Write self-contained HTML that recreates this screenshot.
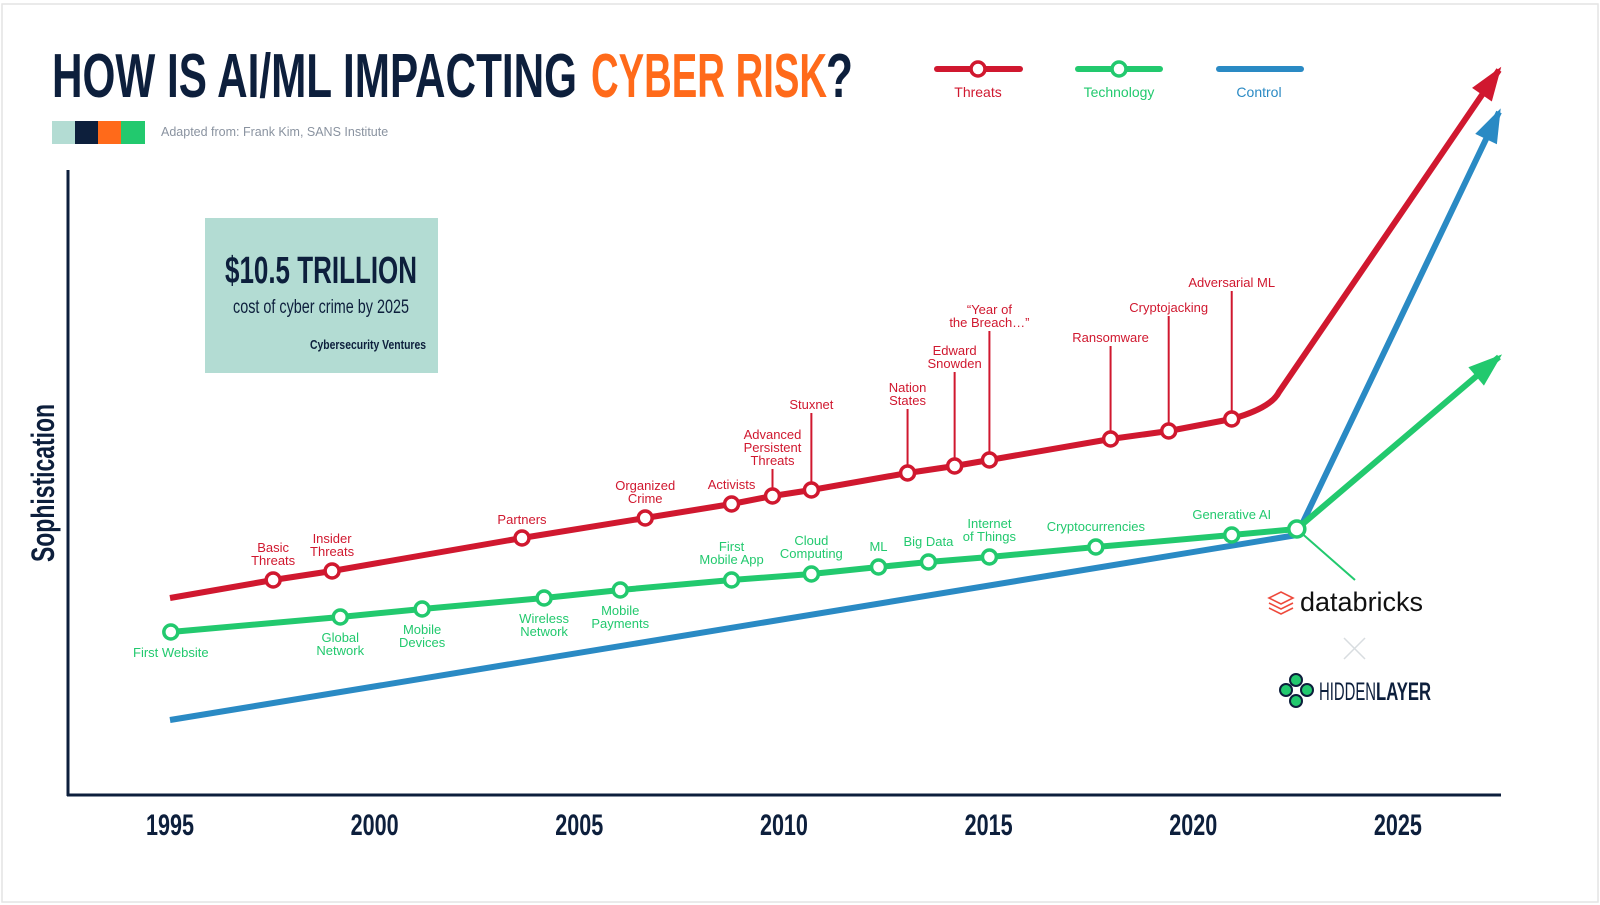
<!DOCTYPE html>
<html><head><meta charset="utf-8"><style>
html,body{margin:0;padding:0;background:#fff;}
svg{display:block;font-family:"Liberation Sans",sans-serif;}
</style></head><body>
<svg id="chart" width="1600" height="905" viewBox="0 0 1600 905">
<rect x="2" y="4" width="1596" height="898" fill="#fff" stroke="#e4e4e4" stroke-width="1.5"/>
<g>
<text x="52" y="97" font-size="62" font-weight="bold" fill="#0d1f3c" textLength="525" lengthAdjust="spacingAndGlyphs">HOW IS AI/ML IMPACTING</text>
<text x="591" y="97" font-size="62" font-weight="bold" fill="#ff6a1a" textLength="236" lengthAdjust="spacingAndGlyphs">CYBER RISK</text>
<text x="826" y="97" font-size="62" font-weight="bold" fill="#0d1f3c" textLength="27" lengthAdjust="spacingAndGlyphs">?</text>
</g>
<g>
<rect x="52" y="121" width="23" height="23" fill="#b3dcd3"/><rect x="75" y="121" width="23" height="23" fill="#0d1f3c"/><rect x="98" y="121" width="23" height="23" fill="#ff6a1a"/><rect x="121" y="121" width="24" height="23" fill="#22c96e"/>
</g>
<text x="161" y="136" font-size="12.5" fill="#8a93a0">Adapted from: Frank Kim, SANS Institute</text>
<g>
<g><line x1="937" y1="69" x2="1020" y2="69" stroke="#d0182f" stroke-width="6" stroke-linecap="round"/><circle cx="978" cy="69" r="7" fill="#fff" stroke="#d0182f" stroke-width="3.5"/><text x="978" y="97" font-size="14" fill="#d0182f" text-anchor="middle">Threats</text></g>
<g><line x1="1078" y1="69" x2="1160" y2="69" stroke="#22c96e" stroke-width="6" stroke-linecap="round"/><circle cx="1119" cy="69" r="7" fill="#fff" stroke="#22c96e" stroke-width="3.5"/><text x="1119" y="97" font-size="14" fill="#22c96e" text-anchor="middle">Technology</text></g>
<g><line x1="1219" y1="69" x2="1301" y2="69" stroke="#2a8ac4" stroke-width="6" stroke-linecap="round"/><text x="1259" y="97" font-size="14" fill="#2a8ac4" text-anchor="middle">Control</text></g>
</g>
<g>
<rect x="205" y="218" width="233" height="155" fill="#b3dcd3"/>
<text x="321" y="283" font-size="38" font-weight="bold" fill="#0d1f3c" text-anchor="middle" textLength="192" lengthAdjust="spacingAndGlyphs">$10.5 TRILLION</text>
<text x="321" y="313" font-size="19" fill="#0d1f3c" text-anchor="middle" textLength="176" lengthAdjust="spacingAndGlyphs">cost of cyber crime by 2025</text>
<text x="426" y="349" font-size="13" font-weight="bold" fill="#0d1f3c" text-anchor="end" textLength="116" lengthAdjust="spacingAndGlyphs">Cybersecurity Ventures</text>
</g>
<text transform="translate(54,483) rotate(-90)" font-size="32" font-weight="bold" fill="#0d1f3c" text-anchor="middle" textLength="158" lengthAdjust="spacingAndGlyphs">Sophistication</text>
<g id="axes"></g>
<g id="series"></g>
<g>
<g fill="none" stroke="#ee4a3c" stroke-width="1.6">
<path d="M1269 598 L1281 592 L1293 598 L1281 604 Z"/><path d="M1269 603 L1281 609 L1293 603"/><path d="M1269 608 L1281 614 L1293 608"/>
<text x="1300" y="611" font-size="27" fill="#111" stroke="none">databricks</text>
</g>
<g stroke="#d8dde0" stroke-width="1.5"><line x1="1344" y1="638" x2="1365" y2="659"/><line x1="1365" y1="638" x2="1344" y2="659"/></g>
<g>
<g fill="#22c96e" stroke="#0d1f3c" stroke-width="2"><circle cx="1296" cy="680" r="6"/><circle cx="1296" cy="701" r="6"/><circle cx="1286" cy="690" r="6"/><circle cx="1307" cy="690" r="6"/></g>
<text x="1319" y="700" font-size="25" fill="#0d1f3c" textLength="57" lengthAdjust="spacingAndGlyphs">HIDDEN</text>
<text x="1376" y="700" font-size="25" font-weight="bold" fill="#0d1f3c" textLength="55" lengthAdjust="spacingAndGlyphs">LAYER</text>
</g>
</g>
</svg>
<script>
const axisYears = [1995, 2000, 2005, 2010, 2015, 2020, 2025];
const threatYears = [1997.52, 1998.96, 2003.6, 2006.61, 2008.72, 2009.72, 2010.67, 2013.02, 2014.17, 2015.02, 2017.98, 2019.4, 2020.94];
const threatValues = [43, 44.8, 51.4, 55.4, 58.2, 59.8, 61, 64.4, 65.8, 67, 71.2, 72.8, 75.2];
const threatLabels = [["Basic","Threats"],["Insider","Threats"],["Partners"],["Organized","Crime"],["Activists"],["Advanced","Persistent","Threats"],["Stuxnet"],["Nation","States"],["Edward","Snowden"],["\u201CYear of","the Breach\u2026\u201D"],["Ransomware"],["Cryptojacking"],["Adversarial ML"]];
const threatLift = [15, 15, 14, 15, 15, 31, 81, 68, 98, 133, 97, 119, 132];
const threatStart = [1995, 39.4];
const threatBend = [2021.9, 79];
const threatEnd = [2027.47, 145];
const techYears = [1995.02, 1999.16, 2001.16, 2004.14, 2006.0, 2008.72, 2010.67, 2012.31, 2013.53, 2015.02, 2017.62, 2020.94];
const techValues = [32.6, 35.6, 37.2, 39.4, 41, 43, 44.2, 45.6, 46.6, 47.6, 49.6, 52];
const techLabels = [["First Website"],["Global","Network"],["Mobile","Devices"],["Wireless","Network"],["Mobile","Payments"],["First","Mobile App"],["Cloud","Computing"],["ML"],["Big Data"],["Internet","of Things"],["Cryptocurrencies"],["Generative AI"]];
const techSide = ["below","below","below","below","below","above","above","above","above","above","above","above"];
const techJoin = [2022.53, 53.2];
const techEnd = [2027.47, 87.6];
const controlStart = [1995, 15];
const controlJoin = [2022.53, 52];
const controlEnd = [2027.47, 136.6];

const NS = "http://www.w3.org/2000/svg";
const xS = y => 170 + (y - 1995) * 40.93;
const yS = v => 795 - v * 5;
function mk(tag, attrs, parent){const e=document.createElementNS(NS,tag);for(const k in attrs)e.setAttribute(k,attrs[k]);parent.appendChild(e);return e;}
const axes=document.getElementById('axes'), series=document.getElementById('series');
let a=mk('line',{x1:68,y1:170,x2:68,y2:796,stroke:'#0d1f3c','stroke-width':3},axes);


a=mk('line',{x1:67,y1:795,x2:1501,y2:795,stroke:'#0d1f3c','stroke-width':3},axes);


axisYears.forEach(yr=>{const t=mk('text',{x:xS(yr),y:835,'font-size':30,'font-weight':'bold',fill:'#0d1f3c','text-anchor':'middle',textLength:48,lengthAdjust:'spacingAndGlyphs'},axes);t.textContent=yr;

});

function arrowHead(tip, from, color, name){
  const x2=xS(tip[0]),y2=yS(tip[1]),x1=xS(from[0]),y1=yS(from[1]);
  const ang=Math.atan2(y2-y1,x2-x1), L=30, W=12;
  const bx=x2-L*Math.cos(ang), by=y2-L*Math.sin(ang);
  const px=-Math.sin(ang)*W, py=Math.cos(ang)*W;
  const p=mk('polygon',{points:`${x2+4*Math.cos(ang)},${y2+4*Math.sin(ang)} ${bx+px},${by+py} ${bx-px},${by-py}`,fill:color},series);
  
  
}
// control line
const cBlue='#2a8ac4', cRed='#d0182f', cGreen='#22c96e';
let pl=mk('polyline',{points:[controlStart,controlJoin,controlEnd].map(p=>xS(p[0])+','+yS(p[1])).join(' '),fill:'none',stroke:cBlue,'stroke-width':6,'stroke-linejoin':'round'},series);


arrowHead(controlEnd, controlJoin, cBlue, 'control-arrow');
// tech line
const techPts=[...techYears.map((y,i)=>[y,techValues[i]]),techJoin,techEnd];
pl=mk('polyline',{points:techPts.map(p=>xS(p[0])+','+yS(p[1])).join(' '),fill:'none',stroke:cGreen,'stroke-width':6,'stroke-linejoin':'round'},series);


arrowHead(techEnd, techJoin, cGreen, 'technology-arrow');
// threat line
const tPts=[threatStart,...threatYears.map((y,i)=>[y,threatValues[i]])];
const last=tPts[tPts.length-1];
let d='M'+tPts.map(p=>xS(p[0])+' '+yS(p[1])).join(' L');
d+=` Q ${xS(threatBend[0])} ${yS(threatBend[1])+8} ${xS(threatBend[0])+8} ${yS(threatBend[1])-8} L ${xS(threatEnd[0])} ${yS(threatEnd[1])}`;
pl=mk('path',{d:d,fill:'none',stroke:cRed,'stroke-width':6,'stroke-linejoin':'round'},series);


arrowHead(threatEnd, threatBend, cRed, 'threats-arrow');
// connector to partner logos
pl=mk('line',{x1:xS(techJoin[0]),y1:yS(techJoin[1]),x2:1355,y2:580,stroke:cGreen,'stroke-width':2},series);



function label(lines, cx, lastY, color, name){
  const t=mk('text',{'font-size':13,fill:color,'text-anchor':'middle'},series);
  
  
  lines.forEach((ln,i)=>{const s=mk('tspan',{x:cx,y:lastY-(lines.length-1-i)*13},t);s.textContent=ln;});
}
threatYears.forEach((yr,i)=>{
  const cx=xS(yr), cy=yS(threatValues[i]), base=cy-threatLift[i];
  if(threatLift[i]>20){const s=mk('line',{x1:cx,y1:base+4,x2:cx,y2:cy,stroke:cRed,'stroke-width':2},series);
    
    }
  label(threatLabels[i],cx,base,cRed,'threat-label');
  const c=mk('circle',{cx:cx,cy:cy,r:7,fill:'#fff',stroke:cRed,'stroke-width':3.5},series);
  
  
});
techYears.forEach((yr,i)=>{
  const cx=xS(yr), cy=yS(techValues[i]), n=techLabels[i].length;
  if(techSide[i]==='below') label(techLabels[i],cx,cy+25+(n-1)*13,cGreen,'technology-label');
  else label(techLabels[i],cx,cy-16,cGreen,'technology-label');
  const c=mk('circle',{cx:cx,cy:cy,r:7,fill:'#fff',stroke:cGreen,'stroke-width':3.5},series);
  
  
});
const jc=mk('circle',{cx:xS(techJoin[0]),cy:yS(techJoin[1]),r:8,fill:'#fff',stroke:cGreen,'stroke-width':3.5},series);


</script>
</body></html>
